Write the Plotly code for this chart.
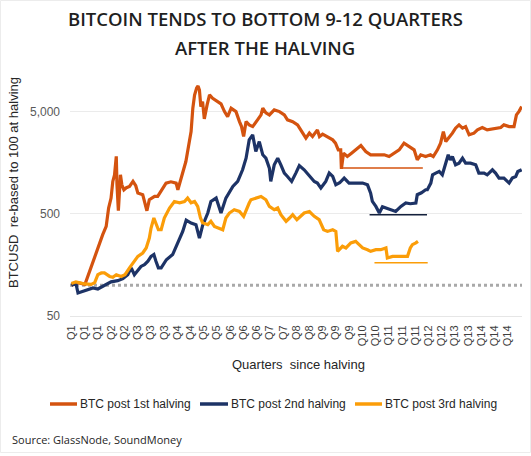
import math
import plotly.graph_objects as go

# ---------------- data ----------------
# x = days since the halving, y = BTCUSD re-based to 100 at the halving
days1 = [0,19,39,57,76,90,100,107,114,119,124,129,131,135,141,145,151,158,167,177,185,191,205,211,217,224,239,248,260,272,286,301,306,315,323,329,339,344,349,354,360,364,368,372,377,382,390,397,406,420,430,440,449,459,473,483,489,495,502,511,521,535,545,550,559,569,583,598,612,621,636,650,660,674,684,693,707,713,722,736,751,759,767,774,776,782,793,805,817,832,846,860,880,899,913,928,942,956,971,985,994,1004,1018,1032,1040,1052,1061,1069,1076,1085,1095,1104,1114,1124,1133,1143,1157,1167,1181,1195,1215,1234,1243,1258,1272,1279,1286,1294]
btc1 = [100,106,102,153,232,313,377,571,715,1040,1208,1832,964,537,1208,964,862,902,929,1040,944,800,771,643,537,688,742,742,862,1002,1032,1002,862,1122,1456,1630,2557,3200,5420,7312,8560,8960,8180,5620,6300,4265,5840,7312,6790,6300,5975,5025,4490,5420,5025,4010,3585,2864,4010,3724,3585,4170,4665,5420,4880,4665,5220,5025,4665,4170,4010,3724,3326,2760,3090,2864,3326,2864,3020,2864,2656,2466,2122,2122,1380,1968,1824,1968,2122,2337,2041,1896,1896,1896,1824,1968,2122,2466,2285,2122,1694,1896,1824,1896,1824,2122,2466,3200,2557,2780,3090,3460,3724,3460,3585,2974,3090,3326,3505,3326,3404,3505,3724,3585,3585,4665,5025,5620]

days2 = [0,13,19,33,47,62,76,90,102,114,133,148,162,172,181,191,200,210,220,229,237,243,250,258,273,291,306,320,330,344,358,368,377,392,401,416,430,438,444,464,478,492,502,511,516,521,530,540,550,559,569,573,583,593,602,612,621,633,645,655,669,684,698,707,717,731,741,751,760,771,784,798,816,837,851,860,865,875,885,894,904,917,932,947,961,974,990,994,1006,1018,1023,1033,1038,1047,1057,1066,1076,1083,1089,1095,1104,1114,1124,1133,1147,1162,1171,1186,1195,1210,1219,1229,1243,1258,1267,1277,1283,1294]
btc2 = [100,104,84,87,89,94,92,98,102,108,111,116,127,148,127,142,153,159,172,192,200,172,148,148,178,200,260,337,434,407,392,290,383,510,662,715,510,643,715,929,1040,1352,1758,2656,2864,2974,2041,2557,1896,1758,1405,1040,1513,1758,1513,1255,1164,1040,1255,1489,1352,1164,1040,1002,896,1040,1255,1164,964,1009,1122,1002,1002,1002,964,800,662,592,510,588,571,549,528,592,639,629,639,771,806,862,862,1002,1208,1255,1301,1208,1572,1896,1694,1824,1513,1572,1758,1572,1572,1513,1255,1255,1208,1352,1255,1122,1122,1002,1122,1164,1301,1352]

days3 = [0,13,24,39,57,67,76,86,95,110,119,129,143,154,167,181,191,205,215,224,229,237,243,250,258,267,282,296,311,325,334,344,354,363,371,377,392,401,411,423,435,444,454,468,483,495,502,511,516,530,545,559,569,583,593,602,617,627,636,648,660,669,684,698,712,725,736,751,760,765,779,789,803,817,827,837,851,860,875,889,904,908,923,937,951,966,974,980,990,996]
btc3 = [104,108,106,103,102,106,127,132,132,122,120,127,122,127,148,172,192,207,232,290,364,456,410,350,350,456,571,662,643,662,715,643,662,592,456,410,392,423,377,366,350,456,510,549,528,473,549,639,688,715,742,688,592,549,571,491,423,456,491,439,473,510,528,473,439,350,337,350,337,215,241,232,260,269,250,232,223,215,223,223,232,185,192,192,192,192,232,250,260,269]

series_names = ["BTC post 1st halving", "BTC post 2nd halving", "BTC post 3rd halving"]

# bottom markers (start day, end day, level)
floor_start = [779, 857, 871]
floor_end = [1010, 1022, 1024]
floor_level = [1405, 491, 166]

baseline = 100

quarter_labels = ["Q1","Q1","Q1","Q2","Q2","Q3","Q3","Q3","Q4","Q4","Q5","Q5",
                  "Q6","Q6","Q6","Q7","Q7","Q8","Q8","Q9","Q9","Q9","Q10","Q10",
                  "Q11","Q11","Q11","Q12","Q12","Q13","Q13","Q14","Q14","Q14"]
label_step_days = 38

y_tickvals = [50, 500, 5000]
y_ticktext = ["50", "500", "5,000"]

# ---------------- style ----------------
COLORS = ["#d4530f", "#1d3366", "#fb9d08"]
FLOOR_COLORS = ["#d4530f", "#14213d", "#fb9d08"]
W, H = 531, 456
ML, MR, MT, MB = 70, 9, 80, 140
PH = H - MT - MB
PW = W - ML - MR
x_min, x_max = -4, 1295
AX_FONT = "Arial, Liberation Sans, sans-serif"
HEAD_FONT = "Open Sans, sans-serif"

def py(pix):  # pixel row -> paper y
    return (H - MB - pix) / PH

def px(pix):  # pixel column -> paper x
    return (pix - ML) / PW

fig = go.Figure()

fig.add_trace(go.Scatter(x=[x_min, x_max], y=[baseline, baseline], mode="lines",
                         line=dict(color="#a9a9a9", width=3, dash="dot"),
                         showlegend=False, hoverinfo="skip"))

for xs, ys, name, col in zip([days1, days2, days3], [btc1, btc2, btc3],
                             series_names, COLORS):
    fig.add_trace(go.Scatter(x=xs, y=ys, mode="lines", name=name,
                             line=dict(color=col, width=3.2), showlegend=False))

for s, e, lv, col in zip(floor_start, floor_end, floor_level, FLOOR_COLORS):
    fig.add_trace(go.Scatter(x=[s, e], y=[lv, lv], mode="lines",
                             line=dict(color=col, width=1.5),
                             showlegend=False, hoverinfo="skip"))

fig.update_layout(
    width=W, height=H,
    margin=dict(l=ML, r=MR, t=MT, b=MB, autoexpand=False),
    paper_bgcolor="white", plot_bgcolor="white",
    showlegend=False,
    xaxis=dict(range=[x_min, x_max],
               tickvals=[i * label_step_days for i in range(len(quarter_labels))],
               ticktext=quarter_labels, tickangle=-90,
               tickfont=dict(family=AX_FONT, size=11, color="#404040"),
               showgrid=False, zeroline=False, showline=True,
               linecolor="#e6e6e6", linewidth=1, ticks="", ticklabelstandoff=4),
    yaxis=dict(type="log", range=[math.log10(50), math.log10(10250)],
               tickvals=y_tickvals, ticktext=y_ticktext,
               tickfont=dict(family=AX_FONT, size=12, color="#595959"),
               showgrid=True, gridcolor="#ebebeb", gridwidth=1,
               zeroline=False, showline=False, ticks="", ticklabelstandoff=9),
)

ann = []
shapes = []
ann.append(dict(text="BITCOIN TENDS TO BOTTOM 9-12 QUARTERS", xref="paper", yref="paper",
                x=px(265), y=py(18), showarrow=False, xanchor="center", yanchor="middle",
                font=dict(family=HEAD_FONT, size=18.5, color="#1f1f1f", weight=600)))
ann.append(dict(text="AFTER THE HALVING", xref="paper", yref="paper",
                x=px(265), y=py(48), showarrow=False, xanchor="center", yanchor="middle",
                font=dict(family=HEAD_FONT, size=18.5, color="#1f1f1f", weight=600)))
ann.append(dict(text="BTCUSD  re-based to 100 at halving", xref="paper", yref="paper",
                x=px(13), y=py(183), showarrow=False, textangle=-90,
                xanchor="center", yanchor="middle",
                font=dict(family=AX_FONT, size=13, color="#262626")))
ann.append(dict(text="Quarters  since halving", xref="paper", yref="paper",
                x=px(298), y=py(364), showarrow=False, xanchor="center", yanchor="middle",
                font=dict(family=AX_FONT, size=13, color="#262626")))
ann.append(dict(text="Source: GlassNode, SoundMoney", xref="paper", yref="paper",
                x=px(10), y=py(439), showarrow=False, xanchor="left", yanchor="middle",
                font=dict(family=HEAD_FONT, size=11, color="#262626", weight=500)))

# legend (drawn manually for exact placement)
leg_line_x = [(50, 77), (200, 228), (355, 382)]
for (a, b), name, col in zip(leg_line_x, series_names, COLORS):
    shapes.append(dict(type="line", xref="paper", yref="paper",
                       x0=px(a), x1=px(b), y0=py(404), y1=py(404),
                       line=dict(color=col, width=3.5)))
    ann.append(dict(text=name, xref="paper", yref="paper", x=px(b + 1), y=py(404),
                    showarrow=False, xanchor="left", yanchor="middle",
                    font=dict(family=AX_FONT, size=12, color="#262626")))

# faint outer frame of the image
shapes.append(dict(type="rect", xref="paper", yref="paper",
                   x0=px(0.5), x1=px(530.5), y0=py(452.5), y1=py(0.5),
                   line=dict(color="#ececec", width=1), layer="below"))

fig.update_layout(annotations=ann, shapes=shapes)

fig.write_html("out.html", config={"displayModeBar": False},
               post_script="document.body.style.margin='0px';")
